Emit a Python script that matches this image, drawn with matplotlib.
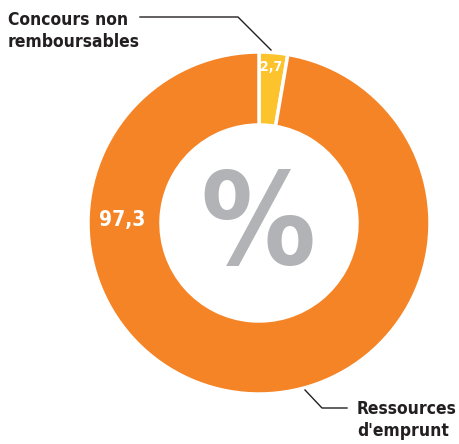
import matplotlib
matplotlib.use('Agg')
import matplotlib.pyplot as plt

labels = ["Concours non\nremboursables", "Ressources\nd'emprunt"]
values = [2.7, 97.3]
value_text = ["2,7", "97,3"]
colors = ['#fcc32c', '#f58426']

fig = plt.figure(figsize=(4.59, 4.44), dpi=100)
ax = fig.add_axes([0, 0, 1, 1])

cx, cy, r = 259, 221, 171
ax.pie(values, colors=colors, startangle=90, counterclock=False,
       center=(cx, cy), radius=r, frame=True,
       wedgeprops=dict(width=r - 98, edgecolor='white', linewidth=2.5))
ax.set_xlim(0, 459)
ax.set_ylim(0, 444)
ax.set_aspect('equal')
ax.axis('off')

cond = dict(family='DejaVu Sans', fontstretch='condensed', fontweight='bold')
ax.text(271, 444 - 67, value_text[0], color='white', fontsize=10,
        ha='center', va='center', **cond)
ax.text(122, 444 - 220, value_text[1], color='white', fontsize=15,
        ha='center', va='center', **cond)
ax.text(258, 444 - 228, '%', color='#b1b3b6', fontsize=92,
        ha='center', va='center', **cond)

ax.text(8, 444 - 31, labels[0], color='#231f20', fontsize=12.5,
        ha='left', va='center', linespacing=1.3, **cond)
ax.plot([140, 238, 271], [444 - 17, 444 - 17, 444 - 50], color='#231f20', lw=1)

ax.text(357, 444 - 420, labels[1], color='#231f20', fontsize=12.5,
        ha='left', va='center', linespacing=1.3, **cond)
ax.plot([305, 322, 347], [444 - 390, 444 - 408, 444 - 408], color='#231f20', lw=1)

fig.savefig('out.png', dpi=100)
